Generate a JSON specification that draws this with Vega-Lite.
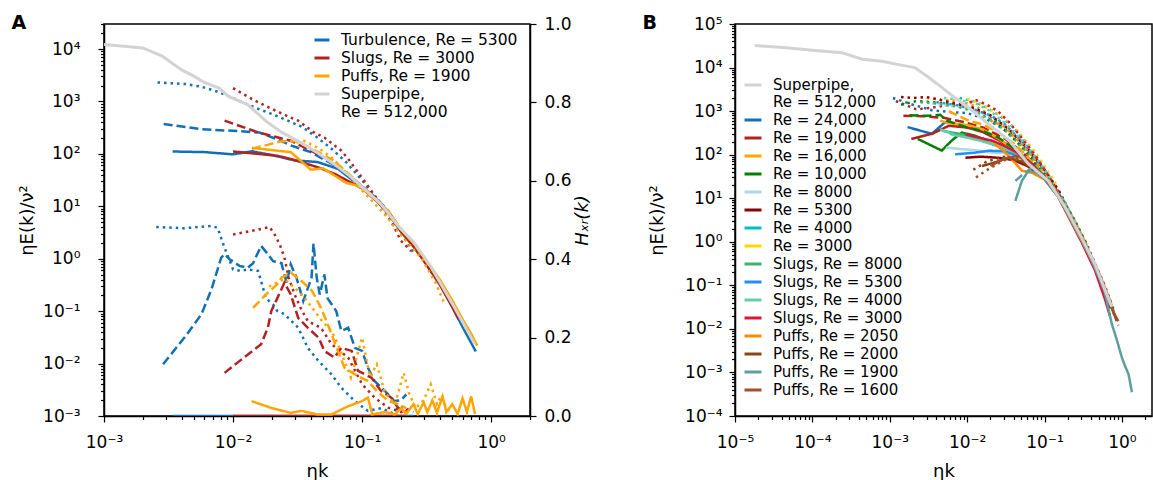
{
  "$schema": "https://vega.github.io/schema/vega-lite/v6.json",
  "padding": {"left": 10, "top": 13, "right": 0, "bottom": 0},
  "spacing": 49,
  "config": {
    "font": "DejaVu Sans",
    "view": {"stroke": "black", "strokeWidth": 1.5},
    "axis": {"domainColor": "black", "domainWidth": 1.5, "tickColor": "black", "tickWidth": 1.2, "labelFont": "DejaVu Sans", "labelFontSize": 17, "labelColor": "black", "titleFont": "DejaVu Sans", "titleFontSize": 18, "titleFontWeight": "normal", "titleColor": "black", "grid": false, "labelOverlap": false, "labelFlush": false},
    "legend": {"labelFont": "DejaVu Sans", "labelFontSize": 15.5, "labelColor": "black", "symbolStrokeWidth": 3, "labelOffset": 10, "rowPadding": 0, "labelLimit": 400, "padding": 0},
    "title": {"font": "DejaVu Sans", "fontSize": 19, "fontWeight": "bold", "color": "black", "anchor": "start", "frame": "bounds"}
  },
  "datasets": {
    "a": [
      {"s":"Turbulence, Re = 5300","t":"solid","x":0.0034,"y":111},{"s":"Turbulence, Re = 5300","t":"solid","x":0.006,"y":108},{"s":"Turbulence, Re = 5300","t":"solid","x":0.01,"y":98},{"s":"Turbulence, Re = 5300","t":"solid","x":0.014,"y":112},{"s":"Turbulence, Re = 5300","t":"solid","x":0.02,"y":95},{"s":"Turbulence, Re = 5300","t":"solid","x":0.03,"y":75},{"s":"Turbulence, Re = 5300","t":"solid","x":0.045,"y":70},{"s":"Turbulence, Re = 5300","t":"solid","x":0.065,"y":52},{"s":"Turbulence, Re = 5300","t":"solid","x":0.085,"y":31},{"s":"Turbulence, Re = 5300","t":"solid","x":0.1,"y":23},{"s":"Turbulence, Re = 5300","t":"solid","x":0.13,"y":13},{"s":"Turbulence, Re = 5300","t":"solid","x":0.16,"y":7.5},{"s":"Turbulence, Re = 5300","t":"solid","x":0.2,"y":3.3},{"s":"Turbulence, Re = 5300","t":"solid","x":0.25,"y":1.8},{"s":"Turbulence, Re = 5300","t":"solid","x":0.3,"y":0.95},{"s":"Turbulence, Re = 5300","t":"solid","x":0.4,"y":0.33},{"s":"Turbulence, Re = 5300","t":"solid","x":0.5,"y":0.12},{"s":"Turbulence, Re = 5300","t":"solid","x":0.6,"y":0.05},{"s":"Turbulence, Re = 5300","t":"solid","x":0.7,"y":0.025},{"s":"Turbulence, Re = 5300","t":"solid","x":0.76,"y":0.017},
      {"s":"Turbulence, Re = 5300","t":"dashed","x":0.0029,"y":370},{"s":"Turbulence, Re = 5300","t":"dashed","x":0.0057,"y":295},{"s":"Turbulence, Re = 5300","t":"dashed","x":0.01,"y":275},{"s":"Turbulence, Re = 5300","t":"dashed","x":0.016,"y":255},{"s":"Turbulence, Re = 5300","t":"dashed","x":0.022,"y":190},{"s":"Turbulence, Re = 5300","t":"dashed","x":0.028,"y":145},{"s":"Turbulence, Re = 5300","t":"dashed","x":0.04,"y":108},{"s":"Turbulence, Re = 5300","t":"dashed","x":0.06,"y":62},{"s":"Turbulence, Re = 5300","t":"dashed","x":0.08,"y":37},{"s":"Turbulence, Re = 5300","t":"dashed","x":0.1,"y":24},{"s":"Turbulence, Re = 5300","t":"dashed","x":0.13,"y":14},{"s":"Turbulence, Re = 5300","t":"dashed","x":0.16,"y":8},{"s":"Turbulence, Re = 5300","t":"dashed","x":0.2,"y":3.5},{"s":"Turbulence, Re = 5300","t":"dashed","x":0.25,"y":1.9},{"s":"Turbulence, Re = 5300","t":"dashed","x":0.3,"y":1.0},{"s":"Turbulence, Re = 5300","t":"dashed","x":0.4,"y":0.35},{"s":"Turbulence, Re = 5300","t":"dashed","x":0.5,"y":0.13},{"s":"Turbulence, Re = 5300","t":"dashed","x":0.6,"y":0.055},{"s":"Turbulence, Re = 5300","t":"dashed","x":0.7,"y":0.027},
      {"s":"Turbulence, Re = 5300","t":"dotted","x":0.0026,"y":2300},{"s":"Turbulence, Re = 5300","t":"dotted","x":0.0043,"y":2150},{"s":"Turbulence, Re = 5300","t":"dotted","x":0.0057,"y":1900},{"s":"Turbulence, Re = 5300","t":"dotted","x":0.0075,"y":1550},{"s":"Turbulence, Re = 5300","t":"dotted","x":0.0091,"y":1280},{"s":"Turbulence, Re = 5300","t":"dotted","x":0.0146,"y":770},{"s":"Turbulence, Re = 5300","t":"dotted","x":0.02,"y":575},{"s":"Turbulence, Re = 5300","t":"dotted","x":0.0266,"y":430},{"s":"Turbulence, Re = 5300","t":"dotted","x":0.034,"y":330},{"s":"Turbulence, Re = 5300","t":"dotted","x":0.0456,"y":200},{"s":"Turbulence, Re = 5300","t":"dotted","x":0.058,"y":125},{"s":"Turbulence, Re = 5300","t":"dotted","x":0.075,"y":70},{"s":"Turbulence, Re = 5300","t":"dotted","x":0.104,"y":28},{"s":"Turbulence, Re = 5300","t":"dotted","x":0.14,"y":11},{"s":"Turbulence, Re = 5300","t":"dotted","x":0.18,"y":4.5},{"s":"Turbulence, Re = 5300","t":"dotted","x":0.22,"y":2.2},{"s":"Turbulence, Re = 5300","t":"dotted","x":0.25,"y":1.3},
      {"s":"Slugs, Re = 3000","t":"solid","x":0.01,"y":111},{"s":"Slugs, Re = 3000","t":"solid","x":0.0156,"y":100},{"s":"Slugs, Re = 3000","t":"solid","x":0.022,"y":92},{"s":"Slugs, Re = 3000","t":"solid","x":0.028,"y":80},{"s":"Slugs, Re = 3000","t":"solid","x":0.046,"y":55},{"s":"Slugs, Re = 3000","t":"solid","x":0.062,"y":41},{"s":"Slugs, Re = 3000","t":"solid","x":0.083,"y":28},{"s":"Slugs, Re = 3000","t":"solid","x":0.1,"y":22},{"s":"Slugs, Re = 3000","t":"solid","x":0.13,"y":12.5},{"s":"Slugs, Re = 3000","t":"solid","x":0.16,"y":7.2},{"s":"Slugs, Re = 3000","t":"solid","x":0.2,"y":3.3},{"s":"Slugs, Re = 3000","t":"solid","x":0.25,"y":1.7},{"s":"Slugs, Re = 3000","t":"solid","x":0.3,"y":0.92},{"s":"Slugs, Re = 3000","t":"solid","x":0.4,"y":0.32},{"s":"Slugs, Re = 3000","t":"solid","x":0.5,"y":0.12},{"s":"Slugs, Re = 3000","t":"solid","x":0.56,"y":0.07},
      {"s":"Slugs, Re = 3000","t":"dashed","x":0.0086,"y":430},{"s":"Slugs, Re = 3000","t":"dashed","x":0.0156,"y":257},{"s":"Slugs, Re = 3000","t":"dashed","x":0.028,"y":178},{"s":"Slugs, Re = 3000","t":"dashed","x":0.04,"y":115},{"s":"Slugs, Re = 3000","t":"dashed","x":0.051,"y":85},{"s":"Slugs, Re = 3000","t":"dashed","x":0.078,"y":41},{"s":"Slugs, Re = 3000","t":"dashed","x":0.1,"y":24},{"s":"Slugs, Re = 3000","t":"dashed","x":0.13,"y":13.5},{"s":"Slugs, Re = 3000","t":"dashed","x":0.16,"y":7.8},{"s":"Slugs, Re = 3000","t":"dashed","x":0.2,"y":3.4},{"s":"Slugs, Re = 3000","t":"dashed","x":0.25,"y":1.8},{"s":"Slugs, Re = 3000","t":"dashed","x":0.3,"y":0.95},{"s":"Slugs, Re = 3000","t":"dashed","x":0.4,"y":0.34},{"s":"Slugs, Re = 3000","t":"dashed","x":0.5,"y":0.13},
      {"s":"Slugs, Re = 3000","t":"dotted","x":0.01,"y":1800},{"s":"Slugs, Re = 3000","t":"dotted","x":0.0146,"y":1050},{"s":"Slugs, Re = 3000","t":"dotted","x":0.02,"y":720},{"s":"Slugs, Re = 3000","t":"dotted","x":0.028,"y":490},{"s":"Slugs, Re = 3000","t":"dotted","x":0.032,"y":430},{"s":"Slugs, Re = 3000","t":"dotted","x":0.043,"y":250},{"s":"Slugs, Re = 3000","t":"dotted","x":0.051,"y":205},{"s":"Slugs, Re = 3000","t":"dotted","x":0.069,"y":115},{"s":"Slugs, Re = 3000","t":"dotted","x":0.078,"y":80},{"s":"Slugs, Re = 3000","t":"dotted","x":0.1,"y":35},{"s":"Slugs, Re = 3000","t":"dotted","x":0.13,"y":14},{"s":"Slugs, Re = 3000","t":"dotted","x":0.168,"y":5.2},{"s":"Slugs, Re = 3000","t":"dotted","x":0.2,"y":2.2},{"s":"Slugs, Re = 3000","t":"dotted","x":0.24,"y":1.4},
      {"s":"Puffs, Re = 1900","t":"solid","x":0.014,"y":130},{"s":"Puffs, Re = 1900","t":"solid","x":0.02,"y":118},{"s":"Puffs, Re = 1900","t":"solid","x":0.028,"y":108},{"s":"Puffs, Re = 1900","t":"solid","x":0.04,"y":50},{"s":"Puffs, Re = 1900","t":"solid","x":0.05,"y":53},{"s":"Puffs, Re = 1900","t":"solid","x":0.075,"y":28},{"s":"Puffs, Re = 1900","t":"solid","x":0.09,"y":25},{"s":"Puffs, Re = 1900","t":"solid","x":0.1,"y":22},{"s":"Puffs, Re = 1900","t":"solid","x":0.13,"y":13},{"s":"Puffs, Re = 1900","t":"solid","x":0.16,"y":7.8},{"s":"Puffs, Re = 1900","t":"solid","x":0.2,"y":3.6},{"s":"Puffs, Re = 1900","t":"solid","x":0.25,"y":2.0},{"s":"Puffs, Re = 1900","t":"solid","x":0.3,"y":1.1},{"s":"Puffs, Re = 1900","t":"solid","x":0.4,"y":0.4},{"s":"Puffs, Re = 1900","t":"solid","x":0.5,"y":0.16},{"s":"Puffs, Re = 1900","t":"solid","x":0.6,"y":0.07},{"s":"Puffs, Re = 1900","t":"solid","x":0.7,"y":0.037},{"s":"Puffs, Re = 1900","t":"solid","x":0.78,"y":0.022},
      {"s":"Puffs, Re = 1900","t":"dashed","x":0.014,"y":125},{"s":"Puffs, Re = 1900","t":"dashed","x":0.024,"y":175},{"s":"Puffs, Re = 1900","t":"dashed","x":0.03,"y":175},{"s":"Puffs, Re = 1900","t":"dashed","x":0.04,"y":130},{"s":"Puffs, Re = 1900","t":"dashed","x":0.06,"y":75},{"s":"Puffs, Re = 1900","t":"dashed","x":0.08,"y":40},{"s":"Puffs, Re = 1900","t":"dashed","x":0.1,"y":24},{"s":"Puffs, Re = 1900","t":"dashed","x":0.13,"y":13.5},{"s":"Puffs, Re = 1900","t":"dashed","x":0.16,"y":8},{"s":"Puffs, Re = 1900","t":"dashed","x":0.2,"y":3.7},{"s":"Puffs, Re = 1900","t":"dashed","x":0.25,"y":2.0},{"s":"Puffs, Re = 1900","t":"dashed","x":0.3,"y":1.05},{"s":"Puffs, Re = 1900","t":"dashed","x":0.4,"y":0.38},{"s":"Puffs, Re = 1900","t":"dashed","x":0.5,"y":0.15},{"s":"Puffs, Re = 1900","t":"dashed","x":0.6,"y":0.068},{"s":"Puffs, Re = 1900","t":"dashed","x":0.72,"y":0.03},
      {"s":"Puffs, Re = 1900","t":"dotted","x":0.035,"y":180},{"s":"Puffs, Re = 1900","t":"dotted","x":0.0456,"y":130},{"s":"Puffs, Re = 1900","t":"dotted","x":0.058,"y":85},{"s":"Puffs, Re = 1900","t":"dotted","x":0.078,"y":41},{"s":"Puffs, Re = 1900","t":"dotted","x":0.1,"y":20},{"s":"Puffs, Re = 1900","t":"dotted","x":0.15,"y":7},{"s":"Puffs, Re = 1900","t":"dotted","x":0.2,"y":2.8},{"s":"Puffs, Re = 1900","t":"dotted","x":0.29,"y":1.0},{"s":"Puffs, Re = 1900","t":"dotted","x":0.37,"y":0.35},{"s":"Puffs, Re = 1900","t":"dotted","x":0.44,"y":0.13},
      {"s":"Superpipe, Re = 512,000","t":"solid","x":0.001,"y":12200},{"s":"Superpipe, Re = 512,000","t":"solid","x":0.002,"y":10500},{"s":"Superpipe, Re = 512,000","t":"solid","x":0.0028,"y":7400},{"s":"Superpipe, Re = 512,000","t":"solid","x":0.004,"y":4000},{"s":"Superpipe, Re = 512,000","t":"solid","x":0.005,"y":3000},{"s":"Superpipe, Re = 512,000","t":"solid","x":0.006,"y":2300},{"s":"Superpipe, Re = 512,000","t":"solid","x":0.0078,"y":1800},{"s":"Superpipe, Re = 512,000","t":"solid","x":0.0092,"y":1250},{"s":"Superpipe, Re = 512,000","t":"solid","x":0.013,"y":870},{"s":"Superpipe, Re = 512,000","t":"solid","x":0.018,"y":420},{"s":"Superpipe, Re = 512,000","t":"solid","x":0.0237,"y":260},{"s":"Superpipe, Re = 512,000","t":"solid","x":0.034,"y":160},{"s":"Superpipe, Re = 512,000","t":"solid","x":0.045,"y":105},{"s":"Superpipe, Re = 512,000","t":"solid","x":0.06,"y":65},{"s":"Superpipe, Re = 512,000","t":"solid","x":0.08,"y":38},{"s":"Superpipe, Re = 512,000","t":"solid","x":0.105,"y":21},{"s":"Superpipe, Re = 512,000","t":"solid","x":0.14,"y":11},{"s":"Superpipe, Re = 512,000","t":"solid","x":0.19,"y":4.2},{"s":"Superpipe, Re = 512,000","t":"solid","x":0.25,"y":2.1},{"s":"Superpipe, Re = 512,000","t":"solid","x":0.344,"y":0.68},{"s":"Superpipe, Re = 512,000","t":"solid","x":0.52,"y":0.117},{"s":"Superpipe, Re = 512,000","t":"solid","x":0.746,"y":0.0235}
    ],
    "ah": [
      {"s":"Turbulence, Re = 5300","t":"solid","x":0.0034,"h":0},{"s":"Turbulence, Re = 5300","t":"solid","x":0.1,"h":0},{"s":"Turbulence, Re = 5300","t":"solid","x":0.25,"h":0},
      {"s":"Slugs, Re = 3000","t":"solid","x":0.01,"h":0},{"s":"Slugs, Re = 3000","t":"solid","x":0.12,"h":0},{"s":"Slugs, Re = 3000","t":"solid","x":0.22,"h":0},
      {"s":"Turbulence, Re = 5300","t":"dashed","x":0.00287,"h":0.132},{"s":"Turbulence, Re = 5300","t":"dashed","x":0.0042,"h":0.2},{"s":"Turbulence, Re = 5300","t":"dashed","x":0.0057,"h":0.26},{"s":"Turbulence, Re = 5300","t":"dashed","x":0.0068,"h":0.323},{"s":"Turbulence, Re = 5300","t":"dashed","x":0.0081,"h":0.404},{"s":"Turbulence, Re = 5300","t":"dashed","x":0.0086,"h":0.413},{"s":"Turbulence, Re = 5300","t":"dashed","x":0.0094,"h":0.4},{"s":"Turbulence, Re = 5300","t":"dashed","x":0.0112,"h":0.383},{"s":"Turbulence, Re = 5300","t":"dashed","x":0.013,"h":0.378},{"s":"Turbulence, Re = 5300","t":"dashed","x":0.0143,"h":0.39},{"s":"Turbulence, Re = 5300","t":"dashed","x":0.0165,"h":0.434},{"s":"Turbulence, Re = 5300","t":"dashed","x":0.0186,"h":0.413},{"s":"Turbulence, Re = 5300","t":"dashed","x":0.0204,"h":0.395},{"s":"Turbulence, Re = 5300","t":"dashed","x":0.0237,"h":0.39},{"s":"Turbulence, Re = 5300","t":"dashed","x":0.026,"h":0.34},{"s":"Turbulence, Re = 5300","t":"dashed","x":0.028,"h":0.387},{"s":"Turbulence, Re = 5300","t":"dashed","x":0.031,"h":0.353},{"s":"Turbulence, Re = 5300","t":"dashed","x":0.035,"h":0.293},{"s":"Turbulence, Re = 5300","t":"dashed","x":0.0406,"h":0.353},{"s":"Turbulence, Re = 5300","t":"dashed","x":0.042,"h":0.44},{"s":"Turbulence, Re = 5300","t":"dashed","x":0.0445,"h":0.353},{"s":"Turbulence, Re = 5300","t":"dashed","x":0.047,"h":0.31},{"s":"Turbulence, Re = 5300","t":"dashed","x":0.051,"h":0.361},{"s":"Turbulence, Re = 5300","t":"dashed","x":0.054,"h":0.3},{"s":"Turbulence, Re = 5300","t":"dashed","x":0.063,"h":0.268},{"s":"Turbulence, Re = 5300","t":"dashed","x":0.069,"h":0.217},{"s":"Turbulence, Re = 5300","t":"dashed","x":0.078,"h":0.225},{"s":"Turbulence, Re = 5300","t":"dashed","x":0.088,"h":0.174},{"s":"Turbulence, Re = 5300","t":"dashed","x":0.1,"h":0.166},{"s":"Turbulence, Re = 5300","t":"dashed","x":0.111,"h":0.123},{"s":"Turbulence, Re = 5300","t":"dashed","x":0.125,"h":0.089},{"s":"Turbulence, Re = 5300","t":"dashed","x":0.15,"h":0.064},{"s":"Turbulence, Re = 5300","t":"dashed","x":0.178,"h":0.038},{"s":"Turbulence, Re = 5300","t":"dashed","x":0.2,"h":0.04},{"s":"Turbulence, Re = 5300","t":"dashed","x":0.22,"h":0.055},
      {"s":"Turbulence, Re = 5300","t":"dotted","x":0.00254,"h":0.482},{"s":"Turbulence, Re = 5300","t":"dotted","x":0.0042,"h":0.479},{"s":"Turbulence, Re = 5300","t":"dotted","x":0.0068,"h":0.485},{"s":"Turbulence, Re = 5300","t":"dotted","x":0.0076,"h":0.48},{"s":"Turbulence, Re = 5300","t":"dotted","x":0.0084,"h":0.438},{"s":"Turbulence, Re = 5300","t":"dotted","x":0.01,"h":0.374},{"s":"Turbulence, Re = 5300","t":"dotted","x":0.0116,"h":0.37},{"s":"Turbulence, Re = 5300","t":"dotted","x":0.013,"h":0.374},{"s":"Turbulence, Re = 5300","t":"dotted","x":0.0156,"h":0.37},{"s":"Turbulence, Re = 5300","t":"dotted","x":0.0165,"h":0.344},{"s":"Turbulence, Re = 5300","t":"dotted","x":0.018,"h":0.3},{"s":"Turbulence, Re = 5300","t":"dotted","x":0.0204,"h":0.285},{"s":"Turbulence, Re = 5300","t":"dotted","x":0.022,"h":0.268},{"s":"Turbulence, Re = 5300","t":"dotted","x":0.025,"h":0.26},{"s":"Turbulence, Re = 5300","t":"dotted","x":0.032,"h":0.225},{"s":"Turbulence, Re = 5300","t":"dotted","x":0.038,"h":0.174},{"s":"Turbulence, Re = 5300","t":"dotted","x":0.046,"h":0.14},{"s":"Turbulence, Re = 5300","t":"dotted","x":0.058,"h":0.106},{"s":"Turbulence, Re = 5300","t":"dotted","x":0.069,"h":0.072},{"s":"Turbulence, Re = 5300","t":"dotted","x":0.088,"h":0.038},{"s":"Turbulence, Re = 5300","t":"dotted","x":0.111,"h":0.013},{"s":"Turbulence, Re = 5300","t":"dotted","x":0.14,"h":0.02},{"s":"Turbulence, Re = 5300","t":"dotted","x":0.17,"h":0.008},{"s":"Turbulence, Re = 5300","t":"dotted","x":0.2,"h":0.025},{"s":"Turbulence, Re = 5300","t":"dotted","x":0.25,"h":0.01},
      {"s":"Slugs, Re = 3000","t":"dotted","x":0.01,"h":0.463},{"s":"Slugs, Re = 3000","t":"dotted","x":0.0139,"h":0.472},{"s":"Slugs, Re = 3000","t":"dotted","x":0.0192,"h":0.482},{"s":"Slugs, Re = 3000","t":"dotted","x":0.021,"h":0.463},{"s":"Slugs, Re = 3000","t":"dotted","x":0.023,"h":0.438},{"s":"Slugs, Re = 3000","t":"dotted","x":0.025,"h":0.404},{"s":"Slugs, Re = 3000","t":"dotted","x":0.027,"h":0.353},{"s":"Slugs, Re = 3000","t":"dotted","x":0.03,"h":0.31},{"s":"Slugs, Re = 3000","t":"dotted","x":0.034,"h":0.27},{"s":"Slugs, Re = 3000","t":"dotted","x":0.038,"h":0.242},{"s":"Slugs, Re = 3000","t":"dotted","x":0.048,"h":0.225},{"s":"Slugs, Re = 3000","t":"dotted","x":0.058,"h":0.183},{"s":"Slugs, Re = 3000","t":"dotted","x":0.078,"h":0.149},{"s":"Slugs, Re = 3000","t":"dotted","x":0.1,"h":0.081},{"s":"Slugs, Re = 3000","t":"dotted","x":0.125,"h":0.047},{"s":"Slugs, Re = 3000","t":"dotted","x":0.16,"h":0.021},{"s":"Slugs, Re = 3000","t":"dotted","x":0.2,"h":0.01},{"s":"Slugs, Re = 3000","t":"dotted","x":0.24,"h":0.02},
      {"s":"Slugs, Re = 3000","t":"dashed","x":0.0086,"h":0.11},{"s":"Slugs, Re = 3000","t":"dashed","x":0.0112,"h":0.14},{"s":"Slugs, Re = 3000","t":"dashed","x":0.0165,"h":0.183},{"s":"Slugs, Re = 3000","t":"dashed","x":0.0186,"h":0.225},{"s":"Slugs, Re = 3000","t":"dashed","x":0.0198,"h":0.268},{"s":"Slugs, Re = 3000","t":"dashed","x":0.022,"h":0.3},{"s":"Slugs, Re = 3000","t":"dashed","x":0.025,"h":0.34},{"s":"Slugs, Re = 3000","t":"dashed","x":0.028,"h":0.31},{"s":"Slugs, Re = 3000","t":"dashed","x":0.032,"h":0.25},{"s":"Slugs, Re = 3000","t":"dashed","x":0.038,"h":0.225},{"s":"Slugs, Re = 3000","t":"dashed","x":0.046,"h":0.2},{"s":"Slugs, Re = 3000","t":"dashed","x":0.051,"h":0.166},{"s":"Slugs, Re = 3000","t":"dashed","x":0.061,"h":0.149},{"s":"Slugs, Re = 3000","t":"dashed","x":0.069,"h":0.174},{"s":"Slugs, Re = 3000","t":"dashed","x":0.083,"h":0.166},{"s":"Slugs, Re = 3000","t":"dashed","x":0.093,"h":0.115},{"s":"Slugs, Re = 3000","t":"dashed","x":0.118,"h":0.098},{"s":"Slugs, Re = 3000","t":"dashed","x":0.14,"h":0.064},{"s":"Slugs, Re = 3000","t":"dashed","x":0.168,"h":0.047},{"s":"Slugs, Re = 3000","t":"dashed","x":0.19,"h":0.021},{"s":"Slugs, Re = 3000","t":"dashed","x":0.22,"h":0.01},
      {"s":"Puffs, Re = 1900","t":"dashed","x":0.0143,"h":0.276},{"s":"Puffs, Re = 1900","t":"dashed","x":0.018,"h":0.31},{"s":"Puffs, Re = 1900","t":"dashed","x":0.022,"h":0.336},{"s":"Puffs, Re = 1900","t":"dashed","x":0.0237,"h":0.353},{"s":"Puffs, Re = 1900","t":"dashed","x":0.028,"h":0.366},{"s":"Puffs, Re = 1900","t":"dashed","x":0.034,"h":0.344},{"s":"Puffs, Re = 1900","t":"dashed","x":0.041,"h":0.319},{"s":"Puffs, Re = 1900","t":"dashed","x":0.048,"h":0.276},{"s":"Puffs, Re = 1900","t":"dashed","x":0.053,"h":0.242},{"s":"Puffs, Re = 1900","t":"dashed","x":0.058,"h":0.208},{"s":"Puffs, Re = 1900","t":"dashed","x":0.065,"h":0.166},{"s":"Puffs, Re = 1900","t":"dashed","x":0.073,"h":0.123},{"s":"Puffs, Re = 1900","t":"dashed","x":0.088,"h":0.106},{"s":"Puffs, Re = 1900","t":"dashed","x":0.111,"h":0.089},{"s":"Puffs, Re = 1900","t":"dashed","x":0.13,"h":0.064},{"s":"Puffs, Re = 1900","t":"dashed","x":0.16,"h":0.038},{"s":"Puffs, Re = 1900","t":"dashed","x":0.19,"h":0.03},{"s":"Puffs, Re = 1900","t":"dashed","x":0.22,"h":0.02},
      {"s":"Puffs, Re = 1900","t":"dotted","x":0.019,"h":0.33},{"s":"Puffs, Re = 1900","t":"dotted","x":0.025,"h":0.35},{"s":"Puffs, Re = 1900","t":"dotted","x":0.03,"h":0.327},{"s":"Puffs, Re = 1900","t":"dotted","x":0.035,"h":0.306},{"s":"Puffs, Re = 1900","t":"dotted","x":0.041,"h":0.276},{"s":"Puffs, Re = 1900","t":"dotted","x":0.049,"h":0.242},{"s":"Puffs, Re = 1900","t":"dotted","x":0.058,"h":0.217},{"s":"Puffs, Re = 1900","t":"dotted","x":0.065,"h":0.183},{"s":"Puffs, Re = 1900","t":"dotted","x":0.073,"h":0.14},{"s":"Puffs, Re = 1900","t":"dotted","x":0.082,"h":0.098},{"s":"Puffs, Re = 1900","t":"dotted","x":0.1,"h":0.2},{"s":"Puffs, Re = 1900","t":"dotted","x":0.115,"h":0.1},{"s":"Puffs, Re = 1900","t":"dotted","x":0.13,"h":0.132},{"s":"Puffs, Re = 1900","t":"dotted","x":0.15,"h":0.06},{"s":"Puffs, Re = 1900","t":"dotted","x":0.18,"h":0.03},{"s":"Puffs, Re = 1900","t":"dotted","x":0.21,"h":0.11},{"s":"Puffs, Re = 1900","t":"dotted","x":0.23,"h":0.06},{"s":"Puffs, Re = 1900","t":"dotted","x":0.26,"h":0.02},{"s":"Puffs, Re = 1900","t":"dotted","x":0.3,"h":0.04},{"s":"Puffs, Re = 1900","t":"dotted","x":0.34,"h":0.081},{"s":"Puffs, Re = 1900","t":"dotted","x":0.38,"h":0.03},{"s":"Puffs, Re = 1900","t":"dotted","x":0.41,"h":0.051},{"s":"Puffs, Re = 1900","t":"dotted","x":0.45,"h":0.02},{"s":"Puffs, Re = 1900","t":"dotted","x":0.5,"h":0.01},
      {"s":"Puffs, Re = 1900","t":"solid","x":0.0139,"h":0.038},{"s":"Puffs, Re = 1900","t":"solid","x":0.02,"h":0.02},{"s":"Puffs, Re = 1900","t":"solid","x":0.028,"h":0.008},{"s":"Puffs, Re = 1900","t":"solid","x":0.034,"h":0.013},{"s":"Puffs, Re = 1900","t":"solid","x":0.045,"h":0.004},{"s":"Puffs, Re = 1900","t":"solid","x":0.058,"h":0.004},{"s":"Puffs, Re = 1900","t":"solid","x":0.078,"h":0.025},{"s":"Puffs, Re = 1900","t":"solid","x":0.1,"h":0.038},{"s":"Puffs, Re = 1900","t":"solid","x":0.111,"h":0.047},{"s":"Puffs, Re = 1900","t":"solid","x":0.12,"h":0.004},{"s":"Puffs, Re = 1900","t":"solid","x":0.15,"h":0.01},{"s":"Puffs, Re = 1900","t":"solid","x":0.18,"h":0.004},{"s":"Puffs, Re = 1900","t":"solid","x":0.2,"h":0.02},{"s":"Puffs, Re = 1900","t":"solid","x":0.22,"h":0.006},{"s":"Puffs, Re = 1900","t":"solid","x":0.25,"h":0.03},{"s":"Puffs, Re = 1900","t":"solid","x":0.27,"h":0.005},{"s":"Puffs, Re = 1900","t":"solid","x":0.3,"h":0.035},{"s":"Puffs, Re = 1900","t":"solid","x":0.32,"h":0.01},{"s":"Puffs, Re = 1900","t":"solid","x":0.35,"h":0.04},{"s":"Puffs, Re = 1900","t":"solid","x":0.38,"h":0.008},{"s":"Puffs, Re = 1900","t":"solid","x":0.42,"h":0.05},{"s":"Puffs, Re = 1900","t":"solid","x":0.45,"h":0.01},{"s":"Puffs, Re = 1900","t":"solid","x":0.5,"h":0.03},{"s":"Puffs, Re = 1900","t":"solid","x":0.55,"h":0.005},{"s":"Puffs, Re = 1900","t":"solid","x":0.6,"h":0.045},{"s":"Puffs, Re = 1900","t":"solid","x":0.65,"h":0.01},{"s":"Puffs, Re = 1900","t":"solid","x":0.7,"h":0.05},{"s":"Puffs, Re = 1900","t":"solid","x":0.75,"h":0.005}
    ],
    "b": [
      {"s":"Superpipe, Re = 512,000","t":"solid","x":0.000018,"y":32000},{"s":"Superpipe, Re = 512,000","t":"solid","x":0.00005,"y":28000},{"s":"Superpipe, Re = 512,000","t":"solid","x":0.0001,"y":25000},{"s":"Superpipe, Re = 512,000","t":"solid","x":0.00024,"y":22000},{"s":"Superpipe, Re = 512,000","t":"solid","x":0.00044,"y":15500},{"s":"Superpipe, Re = 512,000","t":"solid","x":0.00079,"y":14000},{"s":"Superpipe, Re = 512,000","t":"solid","x":0.0012,"y":12000},{"s":"Superpipe, Re = 512,000","t":"solid","x":0.0021,"y":10000},{"s":"Superpipe, Re = 512,000","t":"solid","x":0.0032,"y":5900},{"s":"Superpipe, Re = 512,000","t":"solid","x":0.0047,"y":3500},{"s":"Superpipe, Re = 512,000","t":"solid","x":0.007,"y":2000},{"s":"Superpipe, Re = 512,000","t":"solid","x":0.0105,"y":1200},{"s":"Superpipe, Re = 512,000","t":"solid","x":0.019,"y":500},{"s":"Superpipe, Re = 512,000","t":"solid","x":0.035,"y":210},{"s":"Superpipe, Re = 512,000","t":"solid","x":0.062,"y":61},{"s":"Superpipe, Re = 512,000","t":"solid","x":0.112,"y":25},{"s":"Superpipe, Re = 512,000","t":"solid","x":0.185,"y":6.2},{"s":"Superpipe, Re = 512,000","t":"solid","x":0.3,"y":1.26},{"s":"Superpipe, Re = 512,000","t":"solid","x":0.45,"y":0.3},{"s":"Superpipe, Re = 512,000","t":"solid","x":0.74,"y":0.032},
      {"s":"Re = 24,000","t":"solid","x":0.0017,"y":430},{"s":"Re = 24,000","t":"solid","x":0.0035,"y":300},{"s":"Re = 24,000","t":"solid","x":0.0052,"y":560},{"s":"Re = 24,000","t":"solid","x":0.009,"y":470},{"s":"Re = 24,000","t":"solid","x":0.015,"y":360},{"s":"Re = 24,000","t":"solid","x":0.025,"y":230},{"s":"Re = 24,000","t":"solid","x":0.04,"y":140},{"s":"Re = 24,000","t":"solid","x":0.06,"y":70},{"s":"Re = 24,000","t":"solid","x":0.1,"y":31},{"s":"Re = 24,000","t":"solid","x":0.15,"y":12},{"s":"Re = 24,000","t":"solid","x":0.2,"y":4.7},{"s":"Re = 24,000","t":"solid","x":0.3,"y":1.25},{"s":"Re = 24,000","t":"solid","x":0.4,"y":0.45},{"s":"Re = 24,000","t":"solid","x":0.5,"y":0.19},
      {"s":"Re = 24,000","t":"dotted","x":0.0011,"y":2000},{"s":"Re = 24,000","t":"dotted","x":0.002,"y":1400},{"s":"Re = 24,000","t":"dotted","x":0.0035,"y":1050},{"s":"Re = 24,000","t":"dotted","x":0.006,"y":950},{"s":"Re = 24,000","t":"dotted","x":0.01,"y":900},{"s":"Re = 24,000","t":"dotted","x":0.018,"y":650},{"s":"Re = 24,000","t":"dotted","x":0.03,"y":380},{"s":"Re = 24,000","t":"dotted","x":0.05,"y":160},{"s":"Re = 24,000","t":"dotted","x":0.08,"y":60},{"s":"Re = 24,000","t":"dotted","x":0.12,"y":22},{"s":"Re = 24,000","t":"dotted","x":0.18,"y":7},{"s":"Re = 24,000","t":"dotted","x":0.25,"y":2.6},
      {"s":"Re = 19,000","t":"solid","x":0.0019,"y":230},{"s":"Re = 19,000","t":"solid","x":0.0035,"y":300},{"s":"Re = 19,000","t":"solid","x":0.0058,"y":460},{"s":"Re = 19,000","t":"solid","x":0.01,"y":420},{"s":"Re = 19,000","t":"solid","x":0.016,"y":330},{"s":"Re = 19,000","t":"solid","x":0.025,"y":220},{"s":"Re = 19,000","t":"solid","x":0.04,"y":130},{"s":"Re = 19,000","t":"solid","x":0.06,"y":68},{"s":"Re = 19,000","t":"solid","x":0.1,"y":30},{"s":"Re = 19,000","t":"solid","x":0.15,"y":12},{"s":"Re = 19,000","t":"solid","x":0.2,"y":4.5},{"s":"Re = 19,000","t":"solid","x":0.3,"y":1.2},{"s":"Re = 19,000","t":"solid","x":0.4,"y":0.42},
      {"s":"Re = 19,000","t":"dashed","x":0.0015,"y":780},{"s":"Re = 19,000","t":"dashed","x":0.0028,"y":760},{"s":"Re = 19,000","t":"dashed","x":0.005,"y":700},{"s":"Re = 19,000","t":"dashed","x":0.009,"y":560},{"s":"Re = 19,000","t":"dashed","x":0.016,"y":420},{"s":"Re = 19,000","t":"dashed","x":0.03,"y":240},{"s":"Re = 19,000","t":"dashed","x":0.05,"y":120},{"s":"Re = 19,000","t":"dashed","x":0.08,"y":55},{"s":"Re = 19,000","t":"dashed","x":0.12,"y":24},
      {"s":"Re = 19,000","t":"dotted","x":0.0012,"y":1700},{"s":"Re = 19,000","t":"dotted","x":0.0022,"y":1100},{"s":"Re = 19,000","t":"dotted","x":0.0035,"y":1200},{"s":"Re = 19,000","t":"dotted","x":0.006,"y":1400},{"s":"Re = 19,000","t":"dotted","x":0.01,"y":1300},{"s":"Re = 19,000","t":"dotted","x":0.016,"y":900},{"s":"Re = 19,000","t":"dotted","x":0.025,"y":560},{"s":"Re = 19,000","t":"dotted","x":0.04,"y":280},{"s":"Re = 19,000","t":"dotted","x":0.065,"y":110},{"s":"Re = 19,000","t":"dotted","x":0.1,"y":40},{"s":"Re = 19,000","t":"dotted","x":0.15,"y":14},{"s":"Re = 19,000","t":"dotted","x":0.2,"y":5.5},
      {"s":"Re = 16,000","t":"solid","x":0.0045,"y":600},{"s":"Re = 16,000","t":"solid","x":0.006,"y":520},{"s":"Re = 16,000","t":"solid","x":0.01,"y":480},{"s":"Re = 16,000","t":"solid","x":0.016,"y":380},{"s":"Re = 16,000","t":"solid","x":0.025,"y":240},{"s":"Re = 16,000","t":"solid","x":0.04,"y":130},{"s":"Re = 16,000","t":"solid","x":0.06,"y":72},{"s":"Re = 16,000","t":"solid","x":0.1,"y":31},{"s":"Re = 16,000","t":"solid","x":0.15,"y":12.5},{"s":"Re = 16,000","t":"solid","x":0.2,"y":4.8},{"s":"Re = 16,000","t":"solid","x":0.3,"y":1.3},{"s":"Re = 16,000","t":"solid","x":0.4,"y":0.45},{"s":"Re = 16,000","t":"solid","x":0.5,"y":0.2},
      {"s":"Re = 16,000","t":"dashed","x":0.0058,"y":1000},{"s":"Re = 16,000","t":"dashed","x":0.0105,"y":600},{"s":"Re = 16,000","t":"dashed","x":0.0155,"y":500},{"s":"Re = 16,000","t":"dashed","x":0.025,"y":330},{"s":"Re = 16,000","t":"dashed","x":0.04,"y":180},{"s":"Re = 16,000","t":"dashed","x":0.06,"y":90},{"s":"Re = 16,000","t":"dashed","x":0.1,"y":34},
      {"s":"Re = 16,000","t":"dotted","x":0.003,"y":2000},{"s":"Re = 16,000","t":"dotted","x":0.005,"y":1800},{"s":"Re = 16,000","t":"dotted","x":0.008,"y":1700},{"s":"Re = 16,000","t":"dotted","x":0.013,"y":1300},{"s":"Re = 16,000","t":"dotted","x":0.02,"y":800},{"s":"Re = 16,000","t":"dotted","x":0.03,"y":450},{"s":"Re = 16,000","t":"dotted","x":0.05,"y":180},{"s":"Re = 16,000","t":"dotted","x":0.08,"y":70},{"s":"Re = 16,000","t":"dotted","x":0.12,"y":26},{"s":"Re = 16,000","t":"dotted","x":0.18,"y":8},
      {"s":"Re = 10,000","t":"solid","x":0.0023,"y":230},{"s":"Re = 10,000","t":"solid","x":0.0047,"y":124},{"s":"Re = 10,000","t":"solid","x":0.0063,"y":210},{"s":"Re = 10,000","t":"solid","x":0.0085,"y":320},{"s":"Re = 10,000","t":"solid","x":0.012,"y":280},{"s":"Re = 10,000","t":"solid","x":0.02,"y":200},{"s":"Re = 10,000","t":"solid","x":0.03,"y":150},{"s":"Re = 10,000","t":"solid","x":0.045,"y":100},{"s":"Re = 10,000","t":"solid","x":0.07,"y":50},{"s":"Re = 10,000","t":"solid","x":0.1,"y":29},{"s":"Re = 10,000","t":"solid","x":0.15,"y":11.5},{"s":"Re = 10,000","t":"solid","x":0.2,"y":4.4},{"s":"Re = 10,000","t":"solid","x":0.3,"y":1.15},{"s":"Re = 10,000","t":"solid","x":0.4,"y":0.4},{"s":"Re = 10,000","t":"solid","x":0.5,"y":0.17},{"s":"Re = 10,000","t":"solid","x":0.6,"y":0.07},
      {"s":"Re = 10,000","t":"dashed","x":0.0018,"y":800},{"s":"Re = 10,000","t":"dashed","x":0.003,"y":780},{"s":"Re = 10,000","t":"dashed","x":0.0045,"y":820},{"s":"Re = 10,000","t":"dashed","x":0.0055,"y":600},{"s":"Re = 10,000","t":"dashed","x":0.01,"y":420},{"s":"Re = 10,000","t":"dashed","x":0.016,"y":350},{"s":"Re = 10,000","t":"dashed","x":0.025,"y":250},{"s":"Re = 10,000","t":"dashed","x":0.04,"y":140},{"s":"Re = 10,000","t":"dashed","x":0.07,"y":60},{"s":"Re = 10,000","t":"dashed","x":0.1,"y":31},
      {"s":"Re = 10,000","t":"dotted","x":0.0014,"y":1400},{"s":"Re = 10,000","t":"dotted","x":0.0022,"y":1700},{"s":"Re = 10,000","t":"dotted","x":0.003,"y":1650},{"s":"Re = 10,000","t":"dotted","x":0.005,"y":1500},{"s":"Re = 10,000","t":"dotted","x":0.008,"y":1400},{"s":"Re = 10,000","t":"dotted","x":0.013,"y":1050},{"s":"Re = 10,000","t":"dotted","x":0.02,"y":700},{"s":"Re = 10,000","t":"dotted","x":0.035,"y":300},{"s":"Re = 10,000","t":"dotted","x":0.06,"y":110},{"s":"Re = 10,000","t":"dotted","x":0.1,"y":36},{"s":"Re = 10,000","t":"dotted","x":0.15,"y":13},
      {"s":"Re = 8000","t":"solid","x":0.0053,"y":145},{"s":"Re = 8000","t":"solid","x":0.008,"y":135},{"s":"Re = 8000","t":"solid","x":0.012,"y":128},{"s":"Re = 8000","t":"solid","x":0.021,"y":112},{"s":"Re = 8000","t":"solid","x":0.03,"y":110},{"s":"Re = 8000","t":"solid","x":0.05,"y":80},{"s":"Re = 8000","t":"solid","x":0.08,"y":45},{"s":"Re = 8000","t":"solid","x":0.12,"y":22},{"s":"Re = 8000","t":"solid","x":0.18,"y":8},{"s":"Re = 8000","t":"solid","x":0.25,"y":2.6},{"s":"Re = 8000","t":"solid","x":0.35,"y":0.8},{"s":"Re = 8000","t":"solid","x":0.45,"y":0.3},
      {"s":"Re = 8000","t":"dotted","x":0.0035,"y":1500},{"s":"Re = 8000","t":"dotted","x":0.006,"y":1300},{"s":"Re = 8000","t":"dotted","x":0.01,"y":1200},{"s":"Re = 8000","t":"dotted","x":0.016,"y":900},{"s":"Re = 8000","t":"dotted","x":0.025,"y":600},{"s":"Re = 8000","t":"dotted","x":0.04,"y":280},{"s":"Re = 8000","t":"dotted","x":0.07,"y":95},{"s":"Re = 8000","t":"dotted","x":0.11,"y":30},
      {"s":"Re = 5300","t":"solid","x":0.0095,"y":85},{"s":"Re = 5300","t":"solid","x":0.015,"y":90},{"s":"Re = 5300","t":"solid","x":0.025,"y":85},{"s":"Re = 5300","t":"solid","x":0.04,"y":75},{"s":"Re = 5300","t":"solid","x":0.06,"y":55},{"s":"Re = 5300","t":"solid","x":0.1,"y":28},{"s":"Re = 5300","t":"solid","x":0.15,"y":11},{"s":"Re = 5300","t":"solid","x":0.2,"y":4.3},{"s":"Re = 5300","t":"solid","x":0.3,"y":1.1},{"s":"Re = 5300","t":"solid","x":0.4,"y":0.38},{"s":"Re = 5300","t":"solid","x":0.55,"y":0.1},{"s":"Re = 5300","t":"solid","x":0.7,"y":0.03},
      {"s":"Re = 5300","t":"dotted","x":0.0014,"y":2100},{"s":"Re = 5300","t":"dotted","x":0.002,"y":2000},{"s":"Re = 5300","t":"dotted","x":0.003,"y":2100},{"s":"Re = 5300","t":"dotted","x":0.004,"y":1900},{"s":"Re = 5300","t":"dotted","x":0.007,"y":1500},{"s":"Re = 5300","t":"dotted","x":0.012,"y":1200},{"s":"Re = 5300","t":"dotted","x":0.02,"y":800},{"s":"Re = 5300","t":"dotted","x":0.035,"y":380},{"s":"Re = 5300","t":"dotted","x":0.06,"y":140},{"s":"Re = 5300","t":"dotted","x":0.1,"y":45},{"s":"Re = 5300","t":"dotted","x":0.15,"y":16},{"s":"Re = 5300","t":"dotted","x":0.2,"y":6},
      {"s":"Re = 4000","t":"solid","x":0.006,"y":300},{"s":"Re = 4000","t":"solid","x":0.01,"y":260},{"s":"Re = 4000","t":"solid","x":0.018,"y":200},{"s":"Re = 4000","t":"solid","x":0.03,"y":140},{"s":"Re = 4000","t":"solid","x":0.05,"y":90},{"s":"Re = 4000","t":"solid","x":0.08,"y":48},{"s":"Re = 4000","t":"solid","x":0.12,"y":22},{"s":"Re = 4000","t":"solid","x":0.18,"y":8.5},{"s":"Re = 4000","t":"solid","x":0.25,"y":2.8},{"s":"Re = 4000","t":"solid","x":0.35,"y":0.85},
      {"s":"Re = 4000","t":"dotted","x":0.008,"y":2000},{"s":"Re = 4000","t":"dotted","x":0.012,"y":1700},{"s":"Re = 4000","t":"dotted","x":0.018,"y":1200},{"s":"Re = 4000","t":"dotted","x":0.026,"y":800},{"s":"Re = 4000","t":"dotted","x":0.04,"y":420},{"s":"Re = 4000","t":"dotted","x":0.06,"y":170},{"s":"Re = 4000","t":"dotted","x":0.09,"y":60},{"s":"Re = 4000","t":"dotted","x":0.13,"y":22},
      {"s":"Re = 3000","t":"solid","x":0.012,"y":230},{"s":"Re = 3000","t":"solid","x":0.02,"y":190},{"s":"Re = 3000","t":"solid","x":0.03,"y":140},{"s":"Re = 3000","t":"solid","x":0.05,"y":85},{"s":"Re = 3000","t":"solid","x":0.08,"y":45},{"s":"Re = 3000","t":"solid","x":0.12,"y":21},{"s":"Re = 3000","t":"solid","x":0.18,"y":8},{"s":"Re = 3000","t":"solid","x":0.25,"y":2.7},{"s":"Re = 3000","t":"solid","x":0.35,"y":0.85},
      {"s":"Re = 3000","t":"dotted","x":0.01,"y":1900},{"s":"Re = 3000","t":"dotted","x":0.015,"y":1500},{"s":"Re = 3000","t":"dotted","x":0.02,"y":1100},{"s":"Re = 3000","t":"dotted","x":0.03,"y":700},{"s":"Re = 3000","t":"dotted","x":0.045,"y":350},{"s":"Re = 3000","t":"dotted","x":0.07,"y":140},{"s":"Re = 3000","t":"dotted","x":0.1,"y":55},{"s":"Re = 3000","t":"dotted","x":0.15,"y":18},
      {"s":"Slugs, Re = 8000","t":"solid","x":0.0047,"y":355},{"s":"Slugs, Re = 8000","t":"solid","x":0.008,"y":300},{"s":"Slugs, Re = 8000","t":"solid","x":0.013,"y":250},{"s":"Slugs, Re = 8000","t":"solid","x":0.021,"y":174},{"s":"Slugs, Re = 8000","t":"solid","x":0.035,"y":130},{"s":"Slugs, Re = 8000","t":"solid","x":0.05,"y":95},{"s":"Slugs, Re = 8000","t":"solid","x":0.08,"y":48},{"s":"Slugs, Re = 8000","t":"solid","x":0.12,"y":21},{"s":"Slugs, Re = 8000","t":"solid","x":0.18,"y":7.8},{"s":"Slugs, Re = 8000","t":"solid","x":0.25,"y":2.5},{"s":"Slugs, Re = 8000","t":"solid","x":0.35,"y":0.8},
      {"s":"Slugs, Re = 8000","t":"dotted","x":0.0025,"y":1600},{"s":"Slugs, Re = 8000","t":"dotted","x":0.004,"y":1500},{"s":"Slugs, Re = 8000","t":"dotted","x":0.007,"y":1300},{"s":"Slugs, Re = 8000","t":"dotted","x":0.012,"y":1000},{"s":"Slugs, Re = 8000","t":"dotted","x":0.02,"y":650},{"s":"Slugs, Re = 8000","t":"dotted","x":0.035,"y":300},{"s":"Slugs, Re = 8000","t":"dotted","x":0.06,"y":110},{"s":"Slugs, Re = 8000","t":"dotted","x":0.1,"y":38},
      {"s":"Slugs, Re = 5300","t":"solid","x":0.007,"y":102},{"s":"Slugs, Re = 5300","t":"solid","x":0.012,"y":110},{"s":"Slugs, Re = 5300","t":"solid","x":0.019,"y":123},{"s":"Slugs, Re = 5300","t":"solid","x":0.03,"y":120},{"s":"Slugs, Re = 5300","t":"solid","x":0.05,"y":90},{"s":"Slugs, Re = 5300","t":"solid","x":0.08,"y":46},{"s":"Slugs, Re = 5300","t":"solid","x":0.12,"y":20},{"s":"Slugs, Re = 5300","t":"solid","x":0.18,"y":7.5},{"s":"Slugs, Re = 5300","t":"solid","x":0.25,"y":2.4},{"s":"Slugs, Re = 5300","t":"solid","x":0.35,"y":0.75},
      {"s":"Slugs, Re = 5300","t":"dotted","x":0.004,"y":1600},{"s":"Slugs, Re = 5300","t":"dotted","x":0.007,"y":1400},{"s":"Slugs, Re = 5300","t":"dotted","x":0.012,"y":1100},{"s":"Slugs, Re = 5300","t":"dotted","x":0.02,"y":800},{"s":"Slugs, Re = 5300","t":"dotted","x":0.03,"y":520},{"s":"Slugs, Re = 5300","t":"dotted","x":0.05,"y":210},{"s":"Slugs, Re = 5300","t":"dotted","x":0.08,"y":80},{"s":"Slugs, Re = 5300","t":"dotted","x":0.12,"y":27},
      {"s":"Slugs, Re = 4000","t":"solid","x":0.0045,"y":380},{"s":"Slugs, Re = 4000","t":"solid","x":0.007,"y":280},{"s":"Slugs, Re = 4000","t":"solid","x":0.012,"y":230},{"s":"Slugs, Re = 4000","t":"solid","x":0.02,"y":180},{"s":"Slugs, Re = 4000","t":"solid","x":0.032,"y":140},{"s":"Slugs, Re = 4000","t":"solid","x":0.05,"y":95},{"s":"Slugs, Re = 4000","t":"solid","x":0.08,"y":48},{"s":"Slugs, Re = 4000","t":"solid","x":0.12,"y":21},{"s":"Slugs, Re = 4000","t":"solid","x":0.18,"y":8},{"s":"Slugs, Re = 4000","t":"solid","x":0.25,"y":2.6},
      {"s":"Slugs, Re = 4000","t":"dotted","x":0.005,"y":2000},{"s":"Slugs, Re = 4000","t":"dotted","x":0.008,"y":1800},{"s":"Slugs, Re = 4000","t":"dotted","x":0.013,"y":1500},{"s":"Slugs, Re = 4000","t":"dotted","x":0.02,"y":1000},{"s":"Slugs, Re = 4000","t":"dotted","x":0.032,"y":500},{"s":"Slugs, Re = 4000","t":"dotted","x":0.05,"y":220},{"s":"Slugs, Re = 4000","t":"dotted","x":0.08,"y":80},{"s":"Slugs, Re = 4000","t":"dotted","x":0.12,"y":28},
      {"s":"Slugs, Re = 3000","t":"solid","x":0.0095,"y":295},{"s":"Slugs, Re = 3000","t":"solid","x":0.015,"y":240},{"s":"Slugs, Re = 3000","t":"solid","x":0.021,"y":210},{"s":"Slugs, Re = 3000","t":"solid","x":0.03,"y":160},{"s":"Slugs, Re = 3000","t":"solid","x":0.045,"y":110},{"s":"Slugs, Re = 3000","t":"solid","x":0.07,"y":60},{"s":"Slugs, Re = 3000","t":"solid","x":0.1,"y":30},{"s":"Slugs, Re = 3000","t":"solid","x":0.15,"y":11},{"s":"Slugs, Re = 3000","t":"solid","x":0.2,"y":4},{"s":"Slugs, Re = 3000","t":"solid","x":0.3,"y":1.0},{"s":"Slugs, Re = 3000","t":"solid","x":0.45,"y":0.22},{"s":"Slugs, Re = 3000","t":"solid","x":0.6,"y":0.05},{"s":"Slugs, Re = 3000","t":"solid","x":0.7,"y":0.02},
      {"s":"Slugs, Re = 3000","t":"dotted","x":0.009,"y":1400},{"s":"Slugs, Re = 3000","t":"dotted","x":0.013,"y":1800},{"s":"Slugs, Re = 3000","t":"dotted","x":0.018,"y":1400},{"s":"Slugs, Re = 3000","t":"dotted","x":0.025,"y":1000},{"s":"Slugs, Re = 3000","t":"dotted","x":0.035,"y":550},{"s":"Slugs, Re = 3000","t":"dotted","x":0.05,"y":250},{"s":"Slugs, Re = 3000","t":"dotted","x":0.075,"y":100},{"s":"Slugs, Re = 3000","t":"dotted","x":0.11,"y":35},{"s":"Slugs, Re = 3000","t":"dotted","x":0.16,"y":12},
      {"s":"Puffs, Re = 2050","t":"solid","x":0.023,"y":174},{"s":"Puffs, Re = 2050","t":"solid","x":0.03,"y":120},{"s":"Puffs, Re = 2050","t":"solid","x":0.04,"y":70},{"s":"Puffs, Re = 2050","t":"solid","x":0.051,"y":43},{"s":"Puffs, Re = 2050","t":"solid","x":0.07,"y":38},{"s":"Puffs, Re = 2050","t":"solid","x":0.1,"y":27},{"s":"Puffs, Re = 2050","t":"solid","x":0.15,"y":11},{"s":"Puffs, Re = 2050","t":"solid","x":0.2,"y":4.2},{"s":"Puffs, Re = 2050","t":"solid","x":0.3,"y":1.1},{"s":"Puffs, Re = 2050","t":"solid","x":0.4,"y":0.4},{"s":"Puffs, Re = 2050","t":"solid","x":0.5,"y":0.17},{"s":"Puffs, Re = 2050","t":"solid","x":0.65,"y":0.05},{"s":"Puffs, Re = 2050","t":"solid","x":0.75,"y":0.03},
      {"s":"Puffs, Re = 2050","t":"dotted","x":0.02,"y":600},{"s":"Puffs, Re = 2050","t":"dotted","x":0.03,"y":450},{"s":"Puffs, Re = 2050","t":"dotted","x":0.045,"y":220},{"s":"Puffs, Re = 2050","t":"dotted","x":0.07,"y":90},{"s":"Puffs, Re = 2050","t":"dotted","x":0.1,"y":36},{"s":"Puffs, Re = 2050","t":"dotted","x":0.15,"y":13},
      {"s":"Puffs, Re = 2000","t":"solid","x":0.0155,"y":55},{"s":"Puffs, Re = 2000","t":"solid","x":0.022,"y":65},{"s":"Puffs, Re = 2000","t":"solid","x":0.034,"y":85},{"s":"Puffs, Re = 2000","t":"solid","x":0.05,"y":70},{"s":"Puffs, Re = 2000","t":"solid","x":0.07,"y":48},{"s":"Puffs, Re = 2000","t":"solid","x":0.1,"y":28},{"s":"Puffs, Re = 2000","t":"solid","x":0.15,"y":11},{"s":"Puffs, Re = 2000","t":"solid","x":0.2,"y":4.5},{"s":"Puffs, Re = 2000","t":"solid","x":0.3,"y":1.2},{"s":"Puffs, Re = 2000","t":"solid","x":0.4,"y":0.42},{"s":"Puffs, Re = 2000","t":"solid","x":0.5,"y":0.18},{"s":"Puffs, Re = 2000","t":"solid","x":0.6,"y":0.08},{"s":"Puffs, Re = 2000","t":"solid","x":0.75,"y":0.028},{"s":"Puffs, Re = 2000","t":"solid","x":0.85,"y":0.016},
      {"s":"Puffs, Re = 2000","t":"dotted","x":0.012,"y":45},{"s":"Puffs, Re = 2000","t":"dotted","x":0.018,"y":70},{"s":"Puffs, Re = 2000","t":"dotted","x":0.03,"y":90},{"s":"Puffs, Re = 2000","t":"dotted","x":0.05,"y":80},{"s":"Puffs, Re = 2000","t":"dotted","x":0.08,"y":45},{"s":"Puffs, Re = 2000","t":"dotted","x":0.12,"y":22},{"s":"Puffs, Re = 2000","t":"dotted","x":0.18,"y":7.5},{"s":"Puffs, Re = 2000","t":"dotted","x":0.25,"y":2.8},{"s":"Puffs, Re = 2000","t":"dotted","x":0.35,"y":0.9},{"s":"Puffs, Re = 2000","t":"dotted","x":0.5,"y":0.2},{"s":"Puffs, Re = 2000","t":"dotted","x":0.7,"y":0.04},{"s":"Puffs, Re = 2000","t":"dotted","x":0.9,"y":0.012},
      {"s":"Puffs, Re = 1900","t":"solid","x":0.042,"y":8.7},{"s":"Puffs, Re = 1900","t":"solid","x":0.051,"y":25},{"s":"Puffs, Re = 1900","t":"solid","x":0.062,"y":43},{"s":"Puffs, Re = 1900","t":"solid","x":0.08,"y":38},{"s":"Puffs, Re = 1900","t":"solid","x":0.1,"y":28},{"s":"Puffs, Re = 1900","t":"solid","x":0.15,"y":11},{"s":"Puffs, Re = 1900","t":"solid","x":0.2,"y":4.3},{"s":"Puffs, Re = 1900","t":"solid","x":0.3,"y":1.15},{"s":"Puffs, Re = 1900","t":"solid","x":0.4,"y":0.4},{"s":"Puffs, Re = 1900","t":"solid","x":0.5,"y":0.16},{"s":"Puffs, Re = 1900","t":"solid","x":0.6,"y":0.07},{"s":"Puffs, Re = 1900","t":"solid","x":0.74,"y":0.013},{"s":"Puffs, Re = 1900","t":"solid","x":0.85,"y":0.006},{"s":"Puffs, Re = 1900","t":"solid","x":1.0,"y":0.0022},{"s":"Puffs, Re = 1900","t":"solid","x":1.1,"y":0.0014},{"s":"Puffs, Re = 1900","t":"solid","x":1.22,"y":0.0009},{"s":"Puffs, Re = 1900","t":"solid","x":1.3,"y":0.0005},{"s":"Puffs, Re = 1900","t":"solid","x":1.35,"y":0.00035},
      {"s":"Puffs, Re = 1900","t":"dashed","x":0.042,"y":25},{"s":"Puffs, Re = 1900","t":"dashed","x":0.055,"y":38},{"s":"Puffs, Re = 1900","t":"dashed","x":0.069,"y":50},{"s":"Puffs, Re = 1900","t":"dashed","x":0.09,"y":35},{"s":"Puffs, Re = 1900","t":"dashed","x":0.12,"y":20},
      {"s":"Puffs, Re = 1600","t":"solid","x":0.02,"y":55},{"s":"Puffs, Re = 1600","t":"solid","x":0.03,"y":80},{"s":"Puffs, Re = 1600","t":"solid","x":0.045,"y":95},{"s":"Puffs, Re = 1600","t":"solid","x":0.07,"y":55},{"s":"Puffs, Re = 1600","t":"solid","x":0.1,"y":30},{"s":"Puffs, Re = 1600","t":"solid","x":0.15,"y":12},{"s":"Puffs, Re = 1600","t":"solid","x":0.2,"y":4.8},{"s":"Puffs, Re = 1600","t":"solid","x":0.3,"y":1.3},{"s":"Puffs, Re = 1600","t":"solid","x":0.4,"y":0.47},{"s":"Puffs, Re = 1600","t":"solid","x":0.5,"y":0.2},{"s":"Puffs, Re = 1600","t":"solid","x":0.6,"y":0.09},{"s":"Puffs, Re = 1600","t":"solid","x":0.7,"y":0.045},{"s":"Puffs, Re = 1600","t":"solid","x":0.8,"y":0.022},{"s":"Puffs, Re = 1600","t":"solid","x":0.9,"y":0.015},
      {"s":"Puffs, Re = 1600","t":"dotted","x":0.013,"y":30},{"s":"Puffs, Re = 1600","t":"dotted","x":0.02,"y":50},{"s":"Puffs, Re = 1600","t":"dotted","x":0.035,"y":85},{"s":"Puffs, Re = 1600","t":"dotted","x":0.06,"y":70},{"s":"Puffs, Re = 1600","t":"dotted","x":0.1,"y":32},{"s":"Puffs, Re = 1600","t":"dotted","x":0.16,"y":11},{"s":"Puffs, Re = 1600","t":"dotted","x":0.25,"y":3},{"s":"Puffs, Re = 1600","t":"dotted","x":0.4,"y":0.5},{"s":"Puffs, Re = 1600","t":"dotted","x":0.6,"y":0.1},{"s":"Puffs, Re = 1600","t":"dotted","x":0.8,"y":0.025}
    ]
  },
  "hconcat": [
    {
      "title": {"text": "A", "dx": -7, "dy": 22},
      "width": 426,
      "height": 392,
      "layer": [
        {
          "layer": [
            {
              "data": {"name": "a"},
              "transform": [{"filter": "datum.s != 'Superpipe, Re = 512,000'"}],
              "mark": {"type": "line", "strokeWidth": 2.5, "strokeCap": "butt", "clip": true},
              "encoding": {
                "x": {"field": "x", "type": "quantitative", "scale": {"type": "log", "domain": [0.001, 2], "nice": false},
                  "axis": {"title": "ηk", "values": [0.001,0.002,0.003,0.004,0.005,0.006,0.007,0.008,0.009,0.01,0.02,0.03,0.04,0.05,0.06,0.07,0.08,0.09,0.1,0.2,0.3,0.4,0.5,0.6,0.7,0.8,0.9,1,2],
                    "labelExpr": "abs(log(datum.value)/LN10 - round(log(datum.value)/LN10)) < 0.001 ? '10' + (round(log(datum.value)/LN10) < 0 ? '⁻' : '') + ['⁰','¹','²','³','⁴','⁵','⁶','⁷','⁸','⁹'][abs(round(log(datum.value)/LN10))] : ''",
                    "tickSize": {"condition": {"test": "abs(log(datum.value)/LN10 - round(log(datum.value)/LN10)) < 0.001", "value": 6}, "value": 3.5},
                    "labelPadding": 12, "titlePadding": 12}},
                "y": {"field": "y", "type": "quantitative", "scale": {"type": "log", "domain": [0.001, 30000], "nice": false},
                  "axis": {"title": "ηE(k)/ν²", "values": [0.001,0.002,0.003,0.004,0.005,0.006,0.007,0.008,0.009,0.01,0.02,0.03,0.04,0.05,0.06,0.07,0.08,0.09,0.1,0.2,0.3,0.4,0.5,0.6,0.7,0.8,0.9,1,2,3,4,5,6,7,8,9,10,20,30,40,50,60,70,80,90,100,200,300,400,500,600,700,800,900,1000,2000,3000,4000,5000,6000,7000,8000,9000,10000,20000,30000],
                    "labelExpr": "abs(log(datum.value)/LN10 - round(log(datum.value)/LN10)) < 0.001 ? '10' + (round(log(datum.value)/LN10) < 0 ? '⁻' : '') + ['⁰','¹','²','³','⁴','⁵','⁶','⁷','⁸','⁹'][abs(round(log(datum.value)/LN10))] : ''",
                    "tickSize": {"condition": {"test": "abs(log(datum.value)/LN10 - round(log(datum.value)/LN10)) < 0.001", "value": 6}, "value": 3.5},
                    "labelPadding": 18, "titlePadding": 6}},
                "color": {"field": "s", "type": "nominal",
                  "scale": {"domain": ["Turbulence, Re = 5300", "Slugs, Re = 3000", "Puffs, Re = 1900", "Superpipe, Re = 512,000"], "range": ["#1170b5", "#b22222", "#ffa500", "#d3d3d3"]},
                  "legend": {"title": null, "orient": "none", "legendX": 209, "legendY": 7, "symbolType": "stroke", "symbolSize": 225, "symbolStrokeWidth": 3, "rowPadding": 0,
                    "labelExpr": "datum.label == 'Superpipe, Re = 512,000' ? ['Superpipe,', ' Re = 512,000'] : datum.label"}},
                "strokeDash": {"field": "t", "type": "nominal", "scale": {"domain": ["solid", "dashed", "dotted"], "range": [[1, 0], [9, 4], [2.5, 4]]}, "legend": null}
              }
            },
            {
              "data": {"name": "a"},
              "transform": [{"filter": "datum.s == 'Superpipe, Re = 512,000'"}],
              "mark": {"type": "line", "strokeWidth": 3, "clip": true},
              "encoding": {
                "x": {"field": "x", "type": "quantitative"},
                "y": {"field": "y", "type": "quantitative"},
                "color": {"field": "s", "type": "nominal"}
              }
            }
          ]
        },
        {
          "data": {"name": "ah"},
          "mark": {"type": "line", "strokeWidth": 2.5, "strokeCap": "butt", "clip": true},
          "encoding": {
            "x": {"field": "x", "type": "quantitative"},
            "y": {"field": "h", "type": "quantitative", "scale": {"domain": [0, 1], "nice": false},
              "axis": {"orient": "right", "title": "Hₓᵣ(k)", "titleFontStyle": "italic", "values": [0, 0.2, 0.4, 0.6, 0.8, 1.0], "format": ".1f", "tickSize": 6, "labelPadding": 8, "titlePadding": 2, "titleAngle": 270, "titleBaseline": "top"}},
            "color": {"field": "s", "type": "nominal"},
            "strokeDash": {"field": "t", "type": "nominal"}
          }
        }
      ],
      "resolve": {"scale": {"y": "independent"}}
    },
    {
      "title": {"text": "B", "dx": -6, "dy": 22},
      "width": 417,
      "height": 392,
      "data": {"name": "b"},
      "layer": [
        {
          "transform": [{"filter": "datum.s != 'Superpipe, Re = 512,000'"}],
          "mark": {"type": "line", "strokeWidth": 2.5, "strokeCap": "butt", "clip": true},
          "encoding": {
            "x": {"field": "x", "type": "quantitative", "scale": {"type": "log", "domain": [0.00001, 2.45], "nice": false},
              "axis": {"title": "ηk", "values": [0.00001,0.00002,0.00003,0.00004,0.00005,0.00006,0.00007,0.00008,0.00009,0.0001,0.0002,0.0003,0.0004,0.0005,0.0006,0.0007,0.0008,0.0009,0.001,0.002,0.003,0.004,0.005,0.006,0.007,0.008,0.009,0.01,0.02,0.03,0.04,0.05,0.06,0.07,0.08,0.09,0.1,0.2,0.3,0.4,0.5,0.6,0.7,0.8,0.9,1,2],
                "labelExpr": "abs(log(datum.value)/LN10 - round(log(datum.value)/LN10)) < 0.001 ? '10' + (round(log(datum.value)/LN10) < 0 ? '⁻' : '') + ['⁰','¹','²','³','⁴','⁵','⁶','⁷','⁸','⁹'][abs(round(log(datum.value)/LN10))] : ''",
                "tickSize": {"condition": {"test": "abs(log(datum.value)/LN10 - round(log(datum.value)/LN10)) < 0.001", "value": 6}, "value": 3.5},
                "labelPadding": 12, "titlePadding": 12}},
            "y": {"field": "y", "type": "quantitative", "scale": {"type": "log", "domain": [0.0001, 100000], "nice": false},
              "axis": {"title": "ηE(k)/ν²", "values": [0.0001,0.0002,0.0003,0.0004,0.0005,0.0006,0.0007,0.0008,0.0009,0.001,0.002,0.003,0.004,0.005,0.006,0.007,0.008,0.009,0.01,0.02,0.03,0.04,0.05,0.06,0.07,0.08,0.09,0.1,0.2,0.3,0.4,0.5,0.6,0.7,0.8,0.9,1,2,3,4,5,6,7,8,9,10,20,30,40,50,60,70,80,90,100,200,300,400,500,600,700,800,900,1000,2000,3000,4000,5000,6000,7000,8000,9000,10000,20000,30000,40000,50000,60000,70000,80000,90000,100000],
                "labelExpr": "abs(log(datum.value)/LN10 - round(log(datum.value)/LN10)) < 0.001 ? '10' + (round(log(datum.value)/LN10) < 0 ? '⁻' : '') + ['⁰','¹','²','³','⁴','⁵','⁶','⁷','⁸','⁹'][abs(round(log(datum.value)/LN10))] : ''",
                "tickSize": {"condition": {"test": "abs(log(datum.value)/LN10 - round(log(datum.value)/LN10)) < 0.001", "value": 6}, "value": 3.5},
                "labelPadding": 7, "titlePadding": 18}},
            "color": {"field": "s", "type": "nominal",
              "scale": {"domain": ["Superpipe, Re = 512,000", "Re = 24,000", "Re = 19,000", "Re = 16,000", "Re = 10,000", "Re = 8000", "Re = 5300", "Re = 4000", "Re = 3000", "Slugs, Re = 8000", "Slugs, Re = 5300", "Slugs, Re = 4000", "Slugs, Re = 3000", "Puffs, Re = 2050", "Puffs, Re = 2000", "Puffs, Re = 1900", "Puffs, Re = 1600"],
                "range": ["#d3d3d3", "#1170b5", "#b22222", "#ffa500", "#008000", "#add8e6", "#8b0000", "#00bfbf", "#ffd700", "#3cb371", "#1e90ff", "#66cdaa", "#dc143c", "#ff8c00", "#8b4513", "#5f9ea0", "#a0522d"]},
              "legend": {"title": null, "orient": "none", "legendX": 8, "legendY": 51, "symbolType": "stroke", "symbolSize": 289, "symbolStrokeWidth": 3, "rowPadding": -2, "labelFontSize": 15,
                "labelExpr": "datum.label == 'Superpipe, Re = 512,000' ? ['Superpipe,', 'Re = 512,000'] : datum.label"}},
            "strokeDash": {"field": "t", "type": "nominal", "scale": {"domain": ["solid", "dashed", "dotted"], "range": [[1, 0], [9, 4], [2.5, 4]]}, "legend": null}
          }
        },
        {
          "transform": [{"filter": "datum.s == 'Superpipe, Re = 512,000'"}],
          "mark": {"type": "line", "strokeWidth": 3, "clip": true},
          "encoding": {
            "x": {"field": "x", "type": "quantitative"},
            "y": {"field": "y", "type": "quantitative"},
            "color": {"field": "s", "type": "nominal"}
          }
        }
      ]
    }
  ],
  "resolve": {"scale": {"color": "independent", "strokeDash": "independent"}}
}
